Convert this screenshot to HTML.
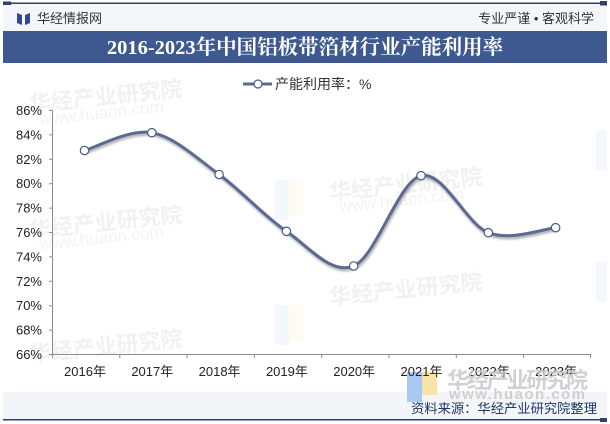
<!DOCTYPE html>
<html><head><meta charset="utf-8">
<style>
html,body{margin:0;padding:0;background:#fff;}
body{width:610px;height:424px;overflow:hidden;}
svg{display:block;}
.cjk{font-family:"Liberation Sans","Noto Sans CJK SC",sans-serif;}
</style></head>
<body>
<svg width="610" height="424" viewBox="0 0 610 424" xmlns="http://www.w3.org/2000/svg">
<defs>
<filter id="sh" x="-10%" y="-20%" width="120%" height="140%">
<feGaussianBlur in="SourceAlpha" stdDeviation="1.2"/>
<feOffset dx="1" dy="2" result="b"/>
<feComponentTransfer><feFuncA type="linear" slope="0.35"/></feComponentTransfer>
<feMerge><feMergeNode/><feMergeNode in="SourceGraphic"/></feMerge>
</filter>
</defs>
<rect width="610" height="424" fill="#fff"/>

<!-- header -->
<rect x="3" y="4" width="604" height="27" fill="#f4f6fa"/>
<rect x="3" y="2.5" width="604" height="1.5" fill="#2f3f6e"/>
<rect x="3" y="1.5" width="8" height="3.5" fill="#2f3f6e"/>
<rect x="600" y="1" width="7" height="4.5" fill="#2f3f6e"/>
<path d="M17 13 L22 15 L22 25 L17 23 Z" fill="#2f4a86"/>
<path d="M30 13 L25 15 L25 25 L30 23 Z" fill="#2f4a86"/>
<text x="37" y="23" class="cjk" font-size="13" fill="#333">华经情报网</text>
<text x="594" y="23" class="cjk" font-size="13" fill="#333" text-anchor="end">专业严谨 • 客观科学</text>

<rect x="3" y="31" width="604" height="32" fill="#3d5990"/>
<text x="305" y="54" font-family="Liberation Serif,'Noto Serif CJK SC',serif" font-weight="bold" font-size="20.5" fill="#fff" text-anchor="middle">2016-2023年中国铝板带箔材行业产能利用率</text>

<!-- watermarks -->
<g class="cjk" fill="#f1f1f1" font-size="22" font-weight="bold">
<text x="30" y="112" transform="rotate(-6 30 112)">华经产业研究院</text>
<text x="30" y="238" transform="rotate(-6 30 238)">华经产业研究院</text>
<text x="30" y="362" transform="rotate(-6 30 362)">华经产业研究院</text>
<text x="330" y="200" transform="rotate(-6 330 200)">华经产业研究院</text>
<text x="330" y="305" transform="rotate(-6 330 305)">华经产业研究院</text>
</g>
<g fill="#f3f3f3" font-family="Liberation Sans,sans-serif" font-size="17">
<text x="40" y="125" transform="rotate(-6 40 125)">www.huaon.com</text>
<text x="40" y="250" transform="rotate(-6 40 250)">www.huaon.com</text>
<text x="340" y="212" transform="rotate(-6 340 212)">www.huaon.com</text>
</g>
<rect x="275" y="180" width="14" height="40" fill="#f4f7fc"/>
<rect x="289" y="180" width="14" height="36" fill="#fdfbf3"/>
<rect x="275" y="305" width="14" height="40" fill="#f4f7fc"/>
<rect x="289" y="305" width="14" height="36" fill="#fdfbf3"/>
<rect x="596" y="262" width="11" height="40" fill="#f4f7fc"/>
<rect x="596" y="130" width="11" height="40" fill="#f4f7fc"/>

<!-- legend -->
<line x1="243" y1="84" x2="272" y2="84" stroke="#5b6a93" stroke-width="3"/>
<circle cx="258" cy="84" r="4" fill="#fff" stroke="#4a5a85" stroke-width="1.2"/>
<text x="275" y="89" class="cjk" font-size="14" fill="#333">产能利用率：%</text>

<!-- axes -->
<g stroke="#8c8c8c" stroke-width="1" fill="none">
<line x1="52.5" y1="110" x2="52.5" y2="354.5"/>
<line x1="52" y1="354.5" x2="591" y2="354.5"/>
<path d="M49 110.5H52 M49 134.9H52 M49 159.3H52 M49 183.7H52 M49 208.1H52 M49 232.5H52 M49 256.9H52 M49 281.3H52 M49 305.7H52 M49 330.1H52 M49 354.5H52"/>
<path d="M52.5 354V358 M119.8 354V358 M187.1 354V358 M254.4 354V358 M321.7 354V358 M389 354V358 M456.3 354V358 M523.6 354V358 M590.5 354V358"/>
</g>
<g font-family="Liberation Sans,sans-serif" font-size="13" fill="#222" text-anchor="end">
<text x="42" y="115">86%</text>
<text x="42" y="139.4">84%</text>
<text x="42" y="163.8">82%</text>
<text x="42" y="188.2">80%</text>
<text x="42" y="212.6">78%</text>
<text x="42" y="237">76%</text>
<text x="42" y="261.4">74%</text>
<text x="42" y="285.8">72%</text>
<text x="42" y="310.2">70%</text>
<text x="42" y="334.6">68%</text>
<text x="42" y="359">66%</text>
</g>

<!-- bottom band -->
<rect x="3" y="392" width="604" height="27" fill="#f3f5f9"/>
<rect x="407" y="372" width="15" height="30" fill="#a9c9f2"/>
<rect x="422" y="372" width="15" height="23" fill="#f7e4a6"/>

<g class="cjk" font-size="13" fill="#222" text-anchor="middle">
<text x="85" y="376">2016年</text>
<text x="152.3" y="376">2017年</text>
<text x="219.6" y="376">2018年</text>
<text x="286.9" y="376">2019年</text>
<text x="354.2" y="376">2020年</text>
<text x="421.5" y="376">2021年</text>
<text x="488.8" y="376">2022年</text>
<text x="556.1" y="376">2023年</text>
</g>

<text x="447" y="388" class="cjk" font-size="22" font-weight="bold" fill="#c9c9c9" opacity="0.85" textLength="141">华经产业研究院</text>
<text x="449" y="399" font-family="Liberation Sans,sans-serif" font-size="15" font-weight="bold" fill="#cfcfcf" textLength="136">www.huaon.com</text>
<text x="411" y="413" class="cjk" font-size="13.3" fill="#1f3766" textLength="186">资料来源：华经产业研究院整理</text>

<rect x="3" y="419" width="604" height="1.5" fill="#2f3f6e"/>
<rect x="600" y="418" width="7" height="4" fill="#2f3f6e"/>

<!-- series -->
<path filter="url(#sh)" d="M84.5 150.5 C95.7 147.5 129.4 128.7 151.8 132.7 C174.2 136.7 196.7 158.1 219.1 174.5 C241.5 190.9 264 216 286.4 231.3 C308.8 246.6 331.3 275.3 353.7 266 C376.1 256.7 398.6 181.3 421 175.7 C443.4 170.2 465.9 224 488.3 232.7 C510.7 241.4 544.4 228.5 555.6 227.7" fill="none" stroke="#5b6a93" stroke-width="3" stroke-linecap="round"/>
<g fill="#fff" stroke="#4a5a85" stroke-width="1.2">
<circle cx="84.5" cy="150.5" r="4.2"/>
<circle cx="151.8" cy="132.7" r="4.2"/>
<circle cx="219.1" cy="174.5" r="4.2"/>
<circle cx="286.4" cy="231.3" r="4.2"/>
<circle cx="353.7" cy="266" r="4.2"/>
<circle cx="421" cy="175.7" r="4.2"/>
<circle cx="488.3" cy="232.7" r="4.2"/>
<circle cx="555.6" cy="227.7" r="4.2"/>
</g>
</svg>
</body></html>
